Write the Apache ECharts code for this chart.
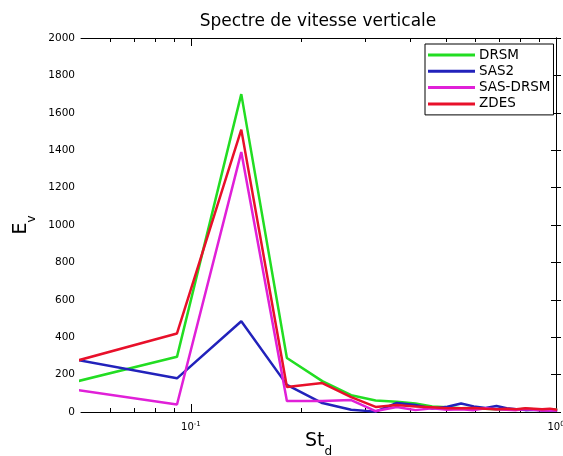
<!DOCTYPE html>
<html><head><meta charset="utf-8">
<script src="https://cdn.jsdelivr.net/npm/echarts@6/dist/echarts.min.js"></script>
<style>html,body{margin:0;padding:0;background:#fff}#c{width:563px;height:456px}</style>
</head><body><div id="c"></div>
<script>
// Strouhal numbers (frequency bins)
const St = [0.0458, 0.0916, 0.1374, 0.1832, 0.2290, 0.2748, 0.3206, 0.3664, 0.4122, 0.4580, 0.5038,
            0.5496, 0.5954, 0.6412, 0.6870, 0.7328, 0.7786, 0.8244, 0.8702, 0.9160, 0.9618, 1.0076];
const DRSM    = [151, 295, 1700, 289, 165, 90, 62, 55, 45, 30, 25, 20, 22, 18, 15, 15, 12, 18, 15, 12, 15, 12];
const SAS2    = [288, 180, 485, 145, 48, 12, 2, 48, 38, 18, 28, 45, 30, 22, 32, 20, 15, 10, 12, 8, 10, 8];
const SAS_DRSM= [125, 40, 1390, 59, 59, 64, 5, 27, 10, 20, 12, 15, 10, 20, 15, 12, 10, 15, 12, 8, 10, 8];
const ZDES    = [260, 420, 1510, 134, 155, 80, 27, 37, 30, 25, 20, 20, 22, 18, 15, 18, 15, 20, 18, 15, 18, 12];
const seriesNames = ['DRSM', 'SAS2', 'SAS-DRSM', 'ZDES'];
const xMajorTicks = [0.1, 1];
const xMinorTicks = [0.06, 0.07, 0.08, 0.09, 0.2, 0.3, 0.4, 0.5, 0.6, 0.7, 0.8, 0.9];
const xMin = 0.05, xMax = 1;

const font = "'DejaVu Sans', Verdana, sans-serif";
const colors = ['#22dd22', '#2222bb', '#e020d8', '#e8102a'];
const allData = [DRSM, SAS2, SAS_DRSM, ZDES];

// decorative tick axes laid out in log10 space (same extent as the data log axis)
function tickAxis(pos, ticks, len, showLine) {
  return {
    type: 'value', min: Math.log10(xMin), max: Math.log10(xMax), position: pos, gridIndex: 0,
    axisLine: {show: showLine, lineStyle: {color: '#000', width: 1}},
    axisTick: {show: true, inside: true, length: len, customValues: ticks.map(Math.log10),
               lineStyle: {color: '#000', width: 1}},
    axisLabel: {show: false}, splitLine: {show: false}
  };
}

const subRich = {
  a: {fontFamily: font, fontSize: 19, color: '#000', lineHeight: 22, verticalAlign: 'top'},
  b: {fontFamily: font, fontSize: 12, color: '#000', lineHeight: 12, padding: [14, 0, 0, 0], verticalAlign: 'top'}
};

const option = {
  backgroundColor: '#fff',
  animation: false,
  title: {
    text: 'Spectre de vitesse verticale',
    left: 318, top: 13, textAlign: 'center', padding: 0,
    textStyle: {fontFamily: font, fontSize: 17, fontWeight: 'normal', color: '#000'}
  },
  legend: {
    data: seriesNames,
    orient: 'vertical', left: 425, top: 44,
    backgroundColor: '#fff', borderColor: '#000', borderWidth: 1,
    padding: [4, 3, 4, 3], itemGap: 2.3, itemWidth: 47, itemHeight: 3, icon: 'rect',
    textStyle: {fontFamily: font, fontSize: 13.5, color: '#000', lineHeight: 13, padding: [0, 0, 0, -1]}
  },
  grid: {left: 81, right: 7, top: 38, bottom: 44, containLabel: false, outerBoundsMode: 'none'},
  xAxis: [
    {
      type: 'log', logBase: 10, min: xMin, max: xMax, position: 'bottom', gridIndex: 0,
      axisLine: {show: true, lineStyle: {color: '#000', width: 1}},
      axisTick: {show: false}, splitLine: {show: false}, minorTick: {show: false},
      axisLabel: {
        show: true, customValues: xMajorTicks, margin: 9,
        fontFamily: font, fontSize: 10, color: '#000',
        formatter: v => '10{sup|' + Math.round(Math.log10(v)) + '}',
        rich: {sup: {fontFamily: font, fontSize: 7, color: '#000', verticalAlign: 'top', padding: [0, 0, 6, 0]}}
      },
      name: '{a|St}{b|d}', nameLocation: 'middle', nameGap: 20, nameMoveOverlap: false,
      nameTextStyle: {rich: subRich}
    },
    tickAxis('bottom', xMajorTicks, 8, false),
    tickAxis('bottom', xMinorTicks, 4, false),
    tickAxis('top', xMajorTicks, 8, true),
    tickAxis('top', xMinorTicks, 4, false)
  ],
  yAxis: [
    {
      type: 'value', min: 0, max: 2000, interval: 200, position: 'left',
      axisLine: {show: true, lineStyle: {color: '#000', width: 1}},
      axisTick: {show: true, inside: true, length: 5, lineStyle: {color: '#000'}},
      axisLabel: {fontFamily: font, fontSize: 10.5, color: '#000', margin: 6, formatter: v => String(v)},
      splitLine: {show: false},
      name: '{a|E}{b|v}', nameLocation: 'middle', nameGap: 46, nameRotate: 90,
      nameTextStyle: {rich: subRich}
    },
    {
      type: 'value', min: 0, max: 2000, interval: 200, position: 'right',
      axisLine: {show: true, lineStyle: {color: '#000', width: 1}},
      axisTick: {show: true, inside: true, length: 5, lineStyle: {color: '#000'}},
      axisLabel: {show: false}, splitLine: {show: false}
    }
  ],
  series: seriesNames.map((name, i) => ({
    name, type: 'line', xAxisIndex: 0, yAxisIndex: 0,
    data: St.map((s, k) => [s, allData[i][k]]),
    showSymbol: false, symbol: 'none', clip: true,
    lineStyle: {color: colors[i], width: 2.5},
    itemStyle: {color: colors[i]}
  }))
};

const chart = echarts.init(document.getElementById('c'), null, {renderer: 'canvas'});
chart.setOption(option);
</script>
</body></html>
